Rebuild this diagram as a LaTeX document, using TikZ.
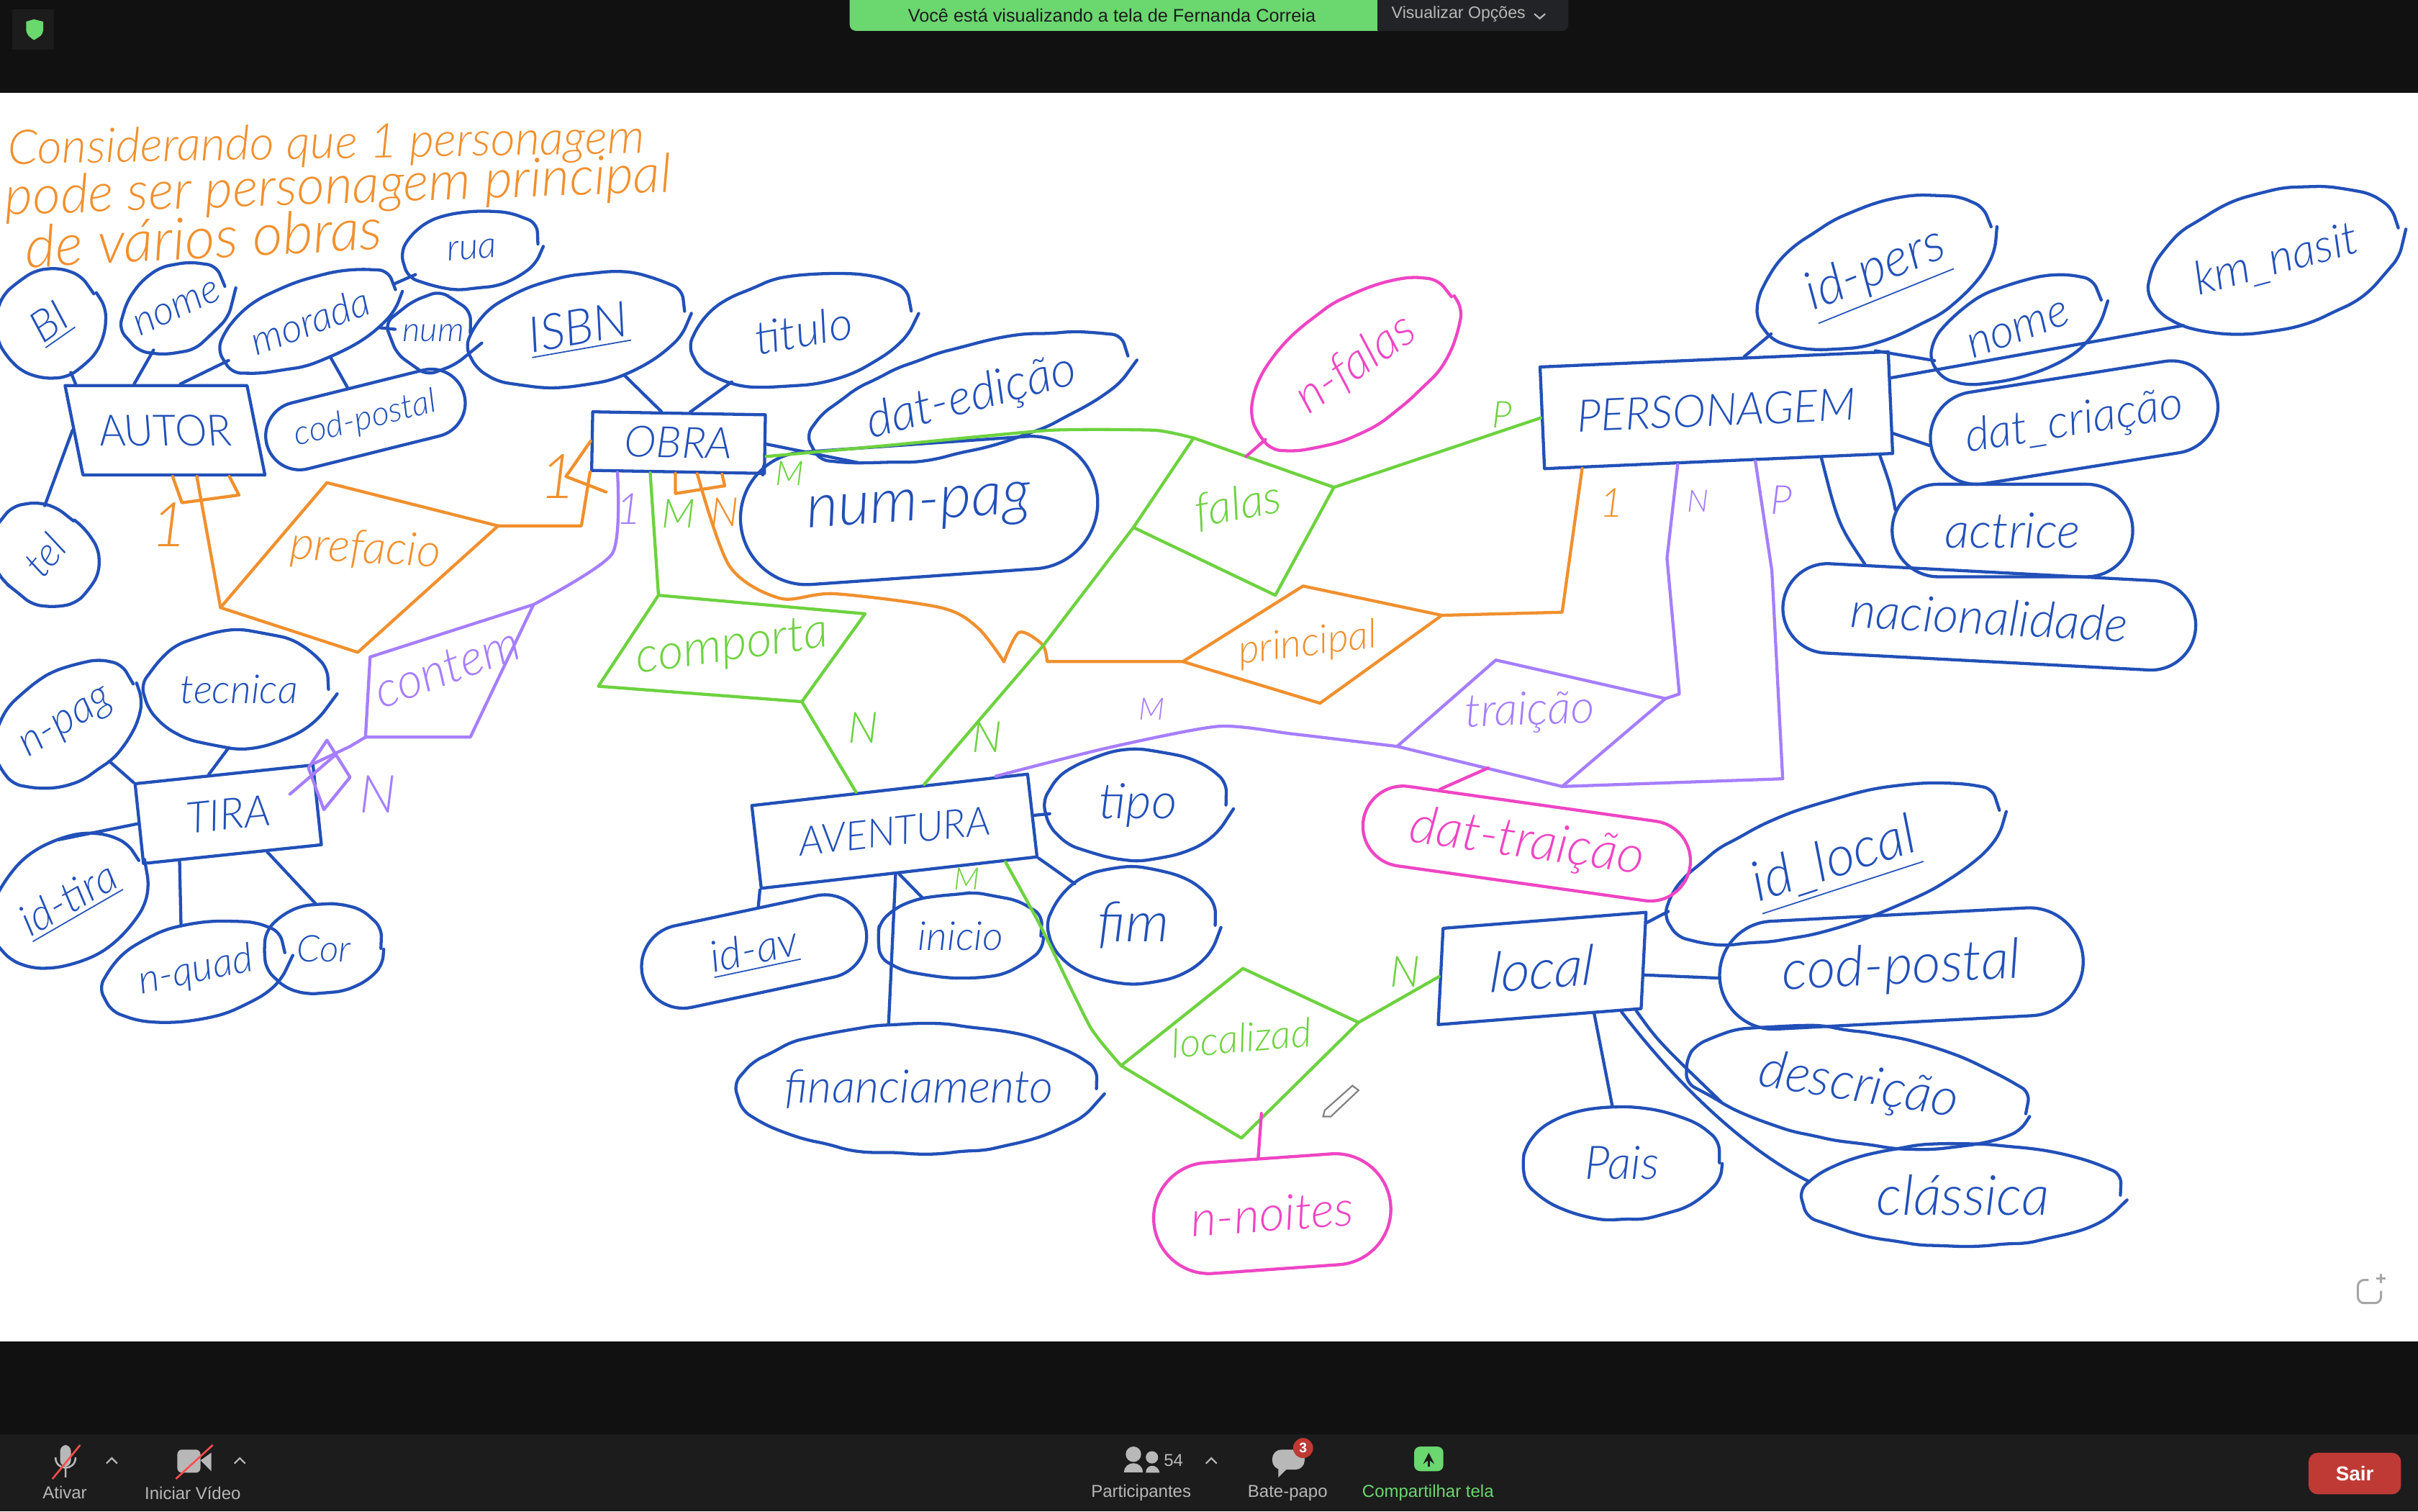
\documentclass[tikz,border=0pt]{standalone}
\usepackage{fontspec}
\usepackage{tikz}
\usetikzlibrary{shapes}
\usetikzlibrary{decorations.pathmorphing}
\setmainfont{Lato}[ItalicFont={Lato Light Italic}]
\newfontfamily\uifont{Liberation Sans}
\definecolor{blu}{HTML}{2250B8}
\definecolor{org}{HTML}{F0902E}
\definecolor{grn}{HTML}{6DD23F}
\definecolor{vio}{HTML}{A67EFF}
\definecolor{pnk}{HTML}{EE45C4}
\definecolor{barblack}{HTML}{111111}
\definecolor{bargrey}{HTML}{1C1C1C}
\definecolor{bangreen}{HTML}{6AD76F}
\definecolor{bandark}{HTML}{222326}
\definecolor{uigrey}{HTML}{B8B8B8}
\definecolor{sairred}{HTML}{BF3A34}
\newcommand{\tx}[1]{\makebox[0pt]{#1}}
\begin{document}
\begin{tikzpicture}[x=.5pt,y=-.5pt]
\pgfmathsetseed{11}
\tikzstyle{fz}=[font=\itshape\fontsize{#1}{#1}\selectfont]
\tikzstyle{wob}=[decorate,decoration={random steps,segment length=7pt,amplitude=.45pt},rounded corners=3pt]
\tikzstyle{pen}=[line width=1pt,line cap=round,line join=round]
\tikzstyle{attr}=[ellipse,draw=blu,text=blu,pen,wob,inner sep=0pt]
\tikzstyle{sausage}=[rounded rectangle,draw=blu,text=blu,pen,inner sep=0pt]
\tikzstyle{entity}=[rectangle,draw=blu,text=blu,pen,inner sep=0pt]
\tikzstyle{lbl}=[inner sep=0pt]
\tikzstyle{ui}=[inner sep=0pt,text=uigrey,font=\uifont\fontsize{5.6}{6}\selectfont]
\useasboundingbox (0,0) rectangle (1568,980);
\fill[barblack] (0,0) rectangle (1568,60);
\fill[white] (0,60) rectangle (1568,870);
\fill[barblack] (0,870) rectangle (1568,930);
\fill[bargrey] (0,930) rectangle (1568,980);

\node[lbl,text=org,fz=15.5,anchor=west,rotate=1] (note1) at (5,98) {Considerando que 1 personagem};
\node[lbl,text=org,fz=17.5,anchor=west,rotate=2] (note2) at (3,130) {pode ser personagem principal};
\node[lbl,text=org,fz=19,anchor=west,rotate=3] (note3) at (16,160) {de vários obras};

\node[entity,fz=14,minimum width=59pt,minimum height=29pt,xslant=-.2] (autor) at (107,279) {AUTOR};
\node[entity,fz=14,minimum width=56pt,minimum height=19pt,rotate=-1] (obra) at (440,287) {OBRA};
\node[entity,fz=14.5,minimum width=113pt,minimum height=33pt,rotate=2.5] (personagem) at (1113,266) {PERSONAGEM};
\node[entity,fz=14,minimum width=58pt,minimum height=26pt,rotate=6] (tira) at (148,528) {TIRA};
\node[entity,fz=13,minimum width=90pt,minimum height=27pt,rotate=6.5] (aventura) at (580,539) {AVENTURA};
\node[entity,fz=18,minimum width=66pt,minimum height=31pt,rotate=4.5,xslant=.13] (local) at (1000,628) {local};

\node[attr,fz=14,minimum width=34pt,minimum height=33pt,rotate=35] (bi) at (33,210) {\tx{\underline{BI}}};
\node[attr,fz=13,minimum width=34pt,minimum height=25pt,rotate=25] (nomea) at (115,200) {\tx{nome}};
\node[attr,fz=13,minimum width=59pt,minimum height=26pt,rotate=20] (morada) at (201,208) {\tx{morada}};
\node[attr,fz=12,minimum width=43pt,minimum height=24pt,rotate=5] (rua) at (306,162) {\tx{rua}};
\node[attr,fz=11,minimum width=24pt,minimum height=20pt] (num) at (281,216) {\tx{num}};
\node[sausage,fz=11,minimum width=66pt,minimum height=22pt,rotate=14] (codposta) at (237,272) {\tx{cod-postal}};
\node[attr,fz=13,minimum width=29pt,minimum height=35pt,rotate=50] (tel) at (29,360) {\tx{tel}};
\node[attr,fz=16,minimum width=70pt,minimum height=35pt,rotate=10] (isbn) at (375,214) {\tx{\underline{ISBN}}};
\node[attr,fz=15,minimum width=71pt,minimum height=35pt,rotate=10] (titulo) at (521,214) {\tx{titulo}};
\node[attr,fz=16,minimum width=105pt,minimum height=33pt,rotate=15] (datedicao) at (630,258) {\tx{dat-edição}};
\node[sausage,fz=20,minimum width=116pt,minimum height=43pt,rotate=4] (numpag) at (596,331) {\tx{num-pag}};

\node[attr,fz=14,minimum width=50pt,minimum height=34pt,rotate=32] (npag) at (44,470) {\tx{n-pag}};
\node[attr,fz=13,minimum width=58pt,minimum height=37pt] (tecnica) at (155,447) {\tx{tecnica}};
\node[attr,fz=14,minimum width=52pt,minimum height=38pt,rotate=30] (idtira) at (45,584) {\tx{\underline{id-tira}}};
\node[attr,fz=13,minimum width=59pt,minimum height=30pt,rotate=12] (nquad) at (127,630) {\tx{n-quad}};
\node[attr,fz=12,minimum width=37pt,minimum height=28pt] (cor) at (210,615) {\tx{Cor}};

\node[attr,fz=16,minimum width=57pt,minimum height=35pt] (tipo) at (738,522) {\tx{tipo}};
\node[attr,fz=18,minimum width=53pt,minimum height=37pt] (fim) at (735,600) {\tx{fim}};
\node[attr,fz=13,minimum width=52pt,minimum height=27pt] (inicio) at (623,607) {\tx{inicio}};
\node[sausage,fz=14,minimum width=74pt,minimum height=27pt,rotate=12] (idav) at (489,617) {\tx{\underline{id-av}}};
\node[attr,fz=15,minimum width=115pt,minimum height=42pt] (financ) at (596,706) {\tx{financiamento}};

\node[attr,fz=17,minimum width=80pt,minimum height=42pt,rotate=22] (idpers) at (1217,177) {\tx{\underline{id-pers}}};
\node[attr,fz=15,minimum width=82pt,minimum height=44pt,rotate=15] (kmnasit) at (1476,169) {\tx{km\_nasit}};
\node[attr,fz=15,minimum width=57pt,minimum height=29pt,rotate=20] (nomep) at (1309,214) {\tx{nome}};
\node[sausage,fz=15,minimum width=94pt,minimum height=30pt,rotate=9] (datcriacao) at (1345,274) {\tx{dat\_criação}};
\node[sausage,fz=16,minimum width=78pt,minimum height=30pt] (actrice) at (1305,344) {\tx{actrice}};
\node[sausage,fz=16,minimum width=134pt,minimum height=29pt,rotate=-3] (nacional) at (1290,400) {\tx{nacionalidade}};

\node[attr,fz=18,minimum width=112pt,minimum height=40pt,rotate=18] (idlocal) at (1190,560) {\tx{\underline{id\_local}}};
\node[sausage,fz=18,minimum width=118pt,minimum height=35pt,rotate=3] (codpostl) at (1233,628) {\tx{cod-postal}};
\node[attr,fz=17,minimum width=110pt,minimum height=36pt,rotate=-9] (descricao) at (1205,705) {\tx{descrição}};
\node[attr,fz=18,minimum width=102pt,minimum height=33pt] (classica) at (1273,775) {\tx{clássica}};
\node[attr,fz=15,minimum width=63pt,minimum height=36pt] (pais) at (1052,754) {\tx{Pais}};

\node[attr,draw=pnk,text=pnk,fz=16,minimum width=76pt,minimum height=40pt,rotate=35] (nfalas) at (879,236) {\tx{n-falas}};
\node[sausage,draw=pnk,text=pnk,fz=17,minimum width=107pt,minimum height=26pt,rotate=-8] (dattraicao) at (990,547) {\tx{dat-traição}};
\node[sausage,draw=pnk,text=pnk,fz=16,minimum width=77pt,minimum height=36pt,rotate=4] (nnoites) at (825,787) {\tx{n-noites}};

\draw[org,pen] (212,313) coordinate (pre-t) -- (323,341) coordinate (pre-r) -- (232,423) coordinate (pre-b) -- (143,394) coordinate (pre-l) -- (pre-t);
\node[lbl,text=org,fz=15,rotate=-3] (prefacio) at (237,357) {prefacio};
\draw[vio,pen] (240,426) coordinate (con-t) -- (346,392) coordinate (con-r) -- (305,478) coordinate (con-b) -- (237,478) coordinate (con-l) -- (con-t);
\node[lbl,text=vio,fz=16,rotate=20] (contem) at (290,433) {contem};
\draw[grn,pen] (427,386) coordinate (com-t) -- (561,398) coordinate (com-r) -- (520,455) coordinate (com-b) -- (388,445) coordinate (com-l) -- (com-t);
\node[lbl,text=grn,fz=16,rotate=8] (comporta) at (475,420) {comporta};
\draw[grn,pen] (774,284) coordinate (fal-t) -- (865,316) coordinate (fal-r) -- (827,386) coordinate (fal-b) -- (735,342) coordinate (fal-l) -- (fal-t);
\node[lbl,text=grn,fz=15,rotate=10] (falas) at (803,328) {falas};
\draw[org,pen] (845,380) coordinate (pri-t) -- (935,399) coordinate (pri-r) -- (856,456) coordinate (pri-b) -- (767,429) coordinate (pri-l) -- (pri-t);
\node[lbl,text=org,fz=13,rotate=7] (principal) at (848,418) {principal};
\draw[vio,pen] (970,428) coordinate (tra-t) -- (1080,453) coordinate (tra-r) -- (1013,510) coordinate (tra-b) -- (906,484) coordinate (tra-l) -- (tra-t);
\node[lbl,text=vio,fz=15,rotate=2] (traicao) at (992,462) {traição};
\draw[grn,pen] (806,628) coordinate (loc-t) -- (881,663) coordinate (loc-r) -- (805,738) coordinate (loc-b) -- (727,691) coordinate (loc-l) -- (loc-t);
\node[lbl,text=grn,fz=13,rotate=5] (localizad) at (805,673) {localizad};

\draw[blu,pen] (bi) -- (autor.150);
\draw[blu,pen] (nomea) -- (autor.115);
\draw[blu,pen] (morada) -- (autor.62);
\draw[blu,pen] (morada) -- (codposta);
\draw[blu,pen] (morada) -- (rua);
\draw[blu,pen] (morada) -- (num);
\draw[blu,pen] (autor.west) -- (tel.40);
\draw[blu,pen] (isbn) -- (obra.120);
\draw[blu,pen] (titulo) -- (obra.70);
\draw[blu,pen] (obra.east) -- (datedicao.195);
\draw[blu,pen] (obra.-20) -- (numpag.160);
\draw[blu,pen] (tecnica.260) -- (tira.110);
\draw[blu,pen] (npag) -- (tira.north west);
\draw[blu,pen] (tira.west) -- (idtira.70);
\draw[blu,pen] (tira.218) -- (nquad.96);
\draw[blu,pen] (tira.-50) -- (cor.100);
\draw[blu,pen] (aventura.east) -- (tipo);
\draw[blu,pen] (aventura.south east) -- (fim);
\draw[blu,pen] (aventura.south) -- (inicio.135);
\draw[blu,pen] (aventura.265) -- (financ.115);
\draw[blu,pen] (aventura.south west) -- (idav);
\draw[blu,pen] (personagem.60) -- (idpers.188);
\draw[blu,pen] (personagem.18) -- (nomep.180);
\draw[blu,pen] (personagem.8) -- (kmnasit.200);
\draw[blu,pen] (personagem.-10) -- (datcriacao.180);
\draw[blu,pen] (personagem.-18) .. controls (1226,315) .. (actrice.170);
\draw[blu,pen] (personagem.-27) .. controls (1192,340) .. (nacional.160);
\draw[blu,pen] (local.20) -- (idlocal.178);
\draw[blu,pen] (local.-8) -- (codpostl.west);
\draw[blu,pen] (local.-42) -- (pais.100);
\draw[blu,pen] (local.-27) .. controls (1075,675) .. (descricao.195);
\draw[blu,pen] (local.-31) .. controls (1095,713) and (1140,750) .. (classica.175);

\draw[org,pen] (autor.268) -- (118,326) -- (155,321) -- (autor.320);
\draw[org,pen] (autor.296) -- (pre-l);
\draw[org,pen] (pre-r) -- (377,341) -- (obra.south west);
\draw[org,pen] (obra.west) -- (367,309) -- (393,319);
\draw[org,pen] (obra.265) -- (438,320) -- (470,315) -- (obra.-35);
\draw[org,pen] plot[smooth,tension=.5] coordinates {(obra.302) (473,367) (506,388) (541,385) (610,394) (634,407) (651,429)};
\draw[org,pen] plot[smooth,tension=.5] coordinates {(651,429) (661,410) (676,418) (679,429)} -- (pri-l);
\draw[org,pen] (pri-r) -- (1013,397) -- (personagem.201);
\draw[vio,pen] plot[smooth,tension=.4] coordinates {(obra.207) (397,359) (con-r)};
\draw[vio,pen] (con-l) -- (227,484) -- (tira.north east);
\draw[vio,pen] (212,480) -- (227,504) -- (210,525) -- (200,498) -- cycle;
\draw[vio,pen] (188,515) -- (217,490);
\draw[vio,pen] plot[smooth,tension=.4] coordinates {(aventura.22) (718,485) (790,471) (839,476) (tra-l)};
\draw[vio,pen] (tra-r) -- (1089,450) -- (1081,362) -- (personagem.232);
\draw[vio,pen] (tra-b) -- (1156,505) -- (1149,370) -- (personagem.305);
\draw[grn,pen] (obra.228) -- (com-t);
\draw[grn,pen] (com-b) -- (aventura.128);
\draw[grn,pen] plot[smooth,tension=.3] coordinates {(obra.-8) (574,289) (681,279) (749,279) (fal-t)};
\draw[grn,pen] (fal-r) -- (personagem.west);
\draw[grn,pen] (fal-l) -- (677,418) -- (aventura.51);
\draw[grn,pen] plot[smooth,tension=.3] coordinates {(aventura.-22) (675,601) (707,666) (loc-l)};
\draw[grn,pen] (loc-r) -- (local.west);
\draw[pnk,pen] (fal-t) ++(34,12) coordinate (nfa-c) -- (nfalas.185);
\draw[pnk,pen] (tra-b) ++(-48,-12) coordinate (tra-c) -- (dattraicao.156);
\draw[pnk,pen] (loc-b) ++(13,-16) coordinate (loc-c) -- (nnoites.100);

\node[lbl,text=org,fz=20] (c1a) at (110,340) {1};
\node[lbl,text=org,fz=20] (c1b) at (362,309) {1};
\node[lbl,text=vio,fz=14] (c1c) at (408,330) {1};
\node[lbl,text=grn,fz=13] (cma) at (440,333) {M};
\node[lbl,text=org,fz=13] (cna) at (470,332) {N};
\node[lbl,text=grn,fz=11] (cmb) at (512,307) {M};
\node[lbl,text=grn,fz=12] (cpa) at (974,269) {P};
\node[lbl,text=org,fz=13] (c1d) at (1045,326) {1};
\node[lbl,text=vio,fz=10] (cnb) at (1101,325) {N};
\node[lbl,text=vio,fz=13] (cpb) at (1155,324) {P};
\node[lbl,text=vio,fz=10] (cmc) at (747,460) {M};
\node[lbl,text=vio,fz=17] (cnc) at (245,515) {N};
\node[lbl,text=grn,fz=14] (cnd) at (560,472) {N};
\node[lbl,text=grn,fz=14] (cne) at (640,478) {N};
\node[lbl,text=grn,fz=10] (cmd) at (627,570) {M};
\node[lbl,text=grn,fz=14] (cnf) at (911,630) {N};

\draw[gray,line width=.5pt] (877,704) -- (881,707) -- (863,724) -- (858,724) -- (859,720) -- cycle;
\draw[gray!70,line width=.7pt,rounded corners=2pt] (1536,830) -- (1529,830) -- (1529,845) -- (1544,845) -- (1544,837);
\draw[gray!70,line width=.7pt] (1541,829) -- (1547,829) (1544,826) -- (1544,832);

\fill[bangreen,rounded corners=2pt] (551,-5) rectangle (900,20);
\fill[bandark,rounded corners=2pt] (890,-5) rectangle (1017,20);
\fill[bangreen] (880,-5) rectangle (893,20);
\node[inner sep=0pt,text=bargrey,font=\uifont\fontsize{5.9}{7}\selectfont] (banner) at (721,10) {Você está visualizando a tela de Fernanda Correia};
\node[ui,font=\uifont\fontsize{5.4}{6}\selectfont,anchor=west] (viewopt) at (902,9) {Visualizar Opções};
\draw[uigrey,line width=.5pt] (995,9) -- (998.5,12) -- (1002,9);
\fill[bargrey] (8,6) rectangle (35,32);
\fill[bangreen] (17,14) -- (22,12.5) -- (28,14) -- (28,20) .. controls (27,23) .. (22,26) .. controls (18,23) .. (17,20) -- cycle;

\fill[uigrey,rounded corners=2pt] (39,937) rectangle (46,951);
\draw[uigrey,line width=.6pt] (36,945) .. controls (36,954) and (49,954) .. (49,945) (42.5,952) -- (42.5,958);
\draw[red!70!white,line width=.6pt] (34,959) -- (52,937);
\draw[uigrey,line width=.5pt] (69,949) -- (72.5,945.5) -- (76,949);
\fill[uigrey,rounded corners=1.5pt] (115,940) rectangle (130,955);
\fill[uigrey] (130,947) -- (137,942) -- (137,954) -- cycle;
\draw[red!70!white,line width=.6pt] (114,959) -- (138,937);
\draw[uigrey,line width=.5pt] (152,949) -- (155.5,945.5) -- (159,949);
\fill[uigrey] (735,943) circle (5) (747,945) circle (4);
\fill[uigrey] (729,955) .. controls (729,947) and (741,947) .. (741,955) -- cycle;
\fill[uigrey] (743,955) .. controls (743,949) and (751,949) .. (752,955) -- cycle;
\node[ui] (count) at (761,947) {54};
\draw[uigrey,line width=.5pt] (782,949) -- (785.5,945.5) -- (789,949);
\fill[uigrey,rounded corners=3pt] (825,940) rectangle (846,953);
\fill[uigrey] (829,952) -- (829,958) -- (835,952) -- cycle;
\fill[sairred] (845,939) circle (6.5);
\node[inner sep=0pt,text=white,font=\uifont\bfseries\fontsize{4.5}{5}\selectfont] (badge) at (845,939) {3};
\fill[bangreen,rounded corners=2pt] (917,938) rectangle (936,954);
\draw[bargrey,line width=.6pt,-stealth] (926.5,951) -- (926.5,942);
\node[ui] (ativar) at (42,968) {Ativar};
\node[ui] (video) at (125,968) {Iniciar Vídeo};
\node[ui] (partic) at (740,968) {Participantes};
\node[ui] (chat) at (835,968) {Bate-papo};
\node[ui,text=bangreen] (share) at (926,968) {Compartilhar tela};
\node[fill=sairred,rounded corners=3pt,text=white,font=\uifont\bfseries\fontsize{6.5}{7}\selectfont,minimum width=30pt,minimum height=13.5pt,inner sep=0pt] (sair) at (1527,955.5) {Sair};
\end{tikzpicture}
\end{document}
